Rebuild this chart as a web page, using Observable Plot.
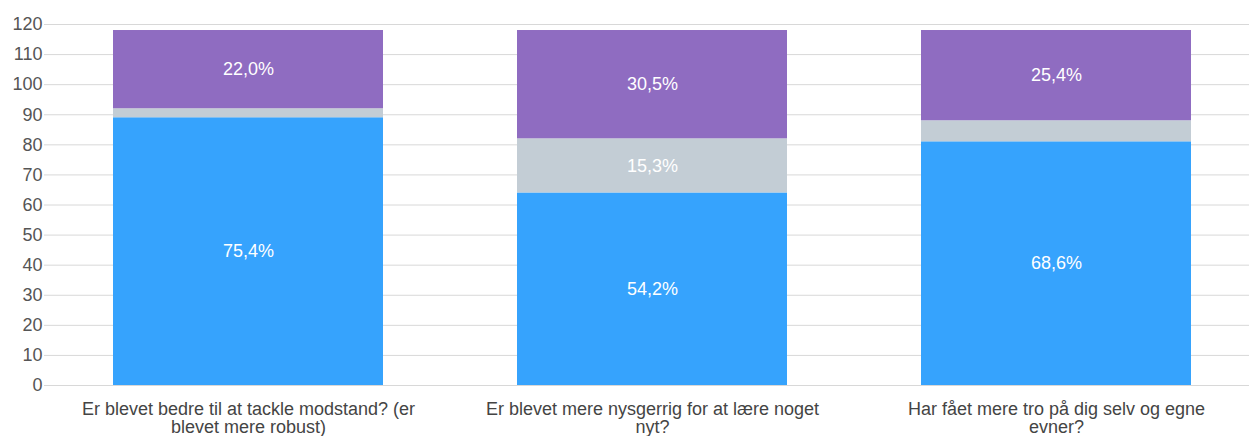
<!DOCTYPE html>
<html>
<head>
<meta charset="utf-8">
<script src="https://cdn.jsdelivr.net/npm/d3@7"></script>
<script src="https://cdn.jsdelivr.net/npm/@observablehq/plot@0.6"></script>
<style>
  html, body { margin: 0; padding: 0; background: #fff; overflow: hidden; }
</style>
</head>
<body>
<div id="chart"></div>
<script>
// Data (n = 118 respondents per question)
const categories = [
  "Er blevet bedre til at tackle modstand? (er blevet mere robust)",
  "Er blevet mere nysgerrig for at lære noget nyt?",
  "Har fået mere tro på dig selv og egne evner?"
];
const categoryLabels = [
  "Er blevet bedre til at tackle modstand? (er\nblevet mere robust)",
  "Er blevet mere nysgerrig for at lære noget\nnyt?",
  "Har fået mere tro på dig selv og egne\nevner?"
];
const seriesNames = ["Ja", "Ved ikke", "Nej"];
const seriesColors = ["#36a3fd", "#c3cdd5", "#8f6cc1"];
const jaValues = [89, 64, 81];
const vedIkkeValues = [3, 18, 7];
const nejValues = [26, 36, 30];
const yTicks = [0, 10, 20, 30, 40, 50, 60, 70, 80, 90, 100, 110, 120];

const seriesValues = [jaValues, vedIkkeValues, nejValues];
const fmt = v => v.toFixed(1).replace(".", ",") + "%";
const data = [];
categories.forEach((c, i) => {
  const total = seriesValues.reduce((s, arr) => s + arr[i], 0);
  seriesValues.forEach((arr, j) => {
    const pct = arr[i] / total * 100;
    data.push({category: c, series: seriesNames[j], value: arr[i], label: pct >= 10 ? fmt(pct) : ""});
  });
});
const labelOf = new Map(categories.map((c, i) => [c, categoryLabels[i]]));

const chart = Plot.plot({
  width: 1249,
  height: 436,
  marginLeft: 44,
  marginRight: 0,
  marginTop: 24,
  marginBottom: 51,
  style: {fontFamily: "'Liberation Sans', Arial, sans-serif", fontSize: "18px", background: "#fff"},
  x: {domain: categories, range: [44, 1260.5], paddingInner: 0.331, paddingOuter: 0.17, label: null},
  y: {domain: [0, 120], label: null},
  color: {domain: seriesNames, range: seriesColors},
  marks: [
    Plot.ruleY(yTicks, {stroke: "#d8d8d8", strokeWidth: 1}),
    Plot.axisY({ticks: yTicks, tickSize: 0, tickPadding: 2, fill: "#555", label: null}),
    Plot.axisX({tickSize: 0, tickPadding: 17, tickFormat: d => labelOf.get(d), fill: "#444", label: null, lineHeight: 1}),
    Plot.barY(data, Plot.stackY({x: "category", y: "value", z: "series", fill: "series"})),
    Plot.text(data, Plot.stackY({x: "category", y: "value", z: "series", text: "label", fill: "white", fontSize: 18}))
  ]
});
document.getElementById("chart").appendChild(chart);
</script>
</body>
</html>
